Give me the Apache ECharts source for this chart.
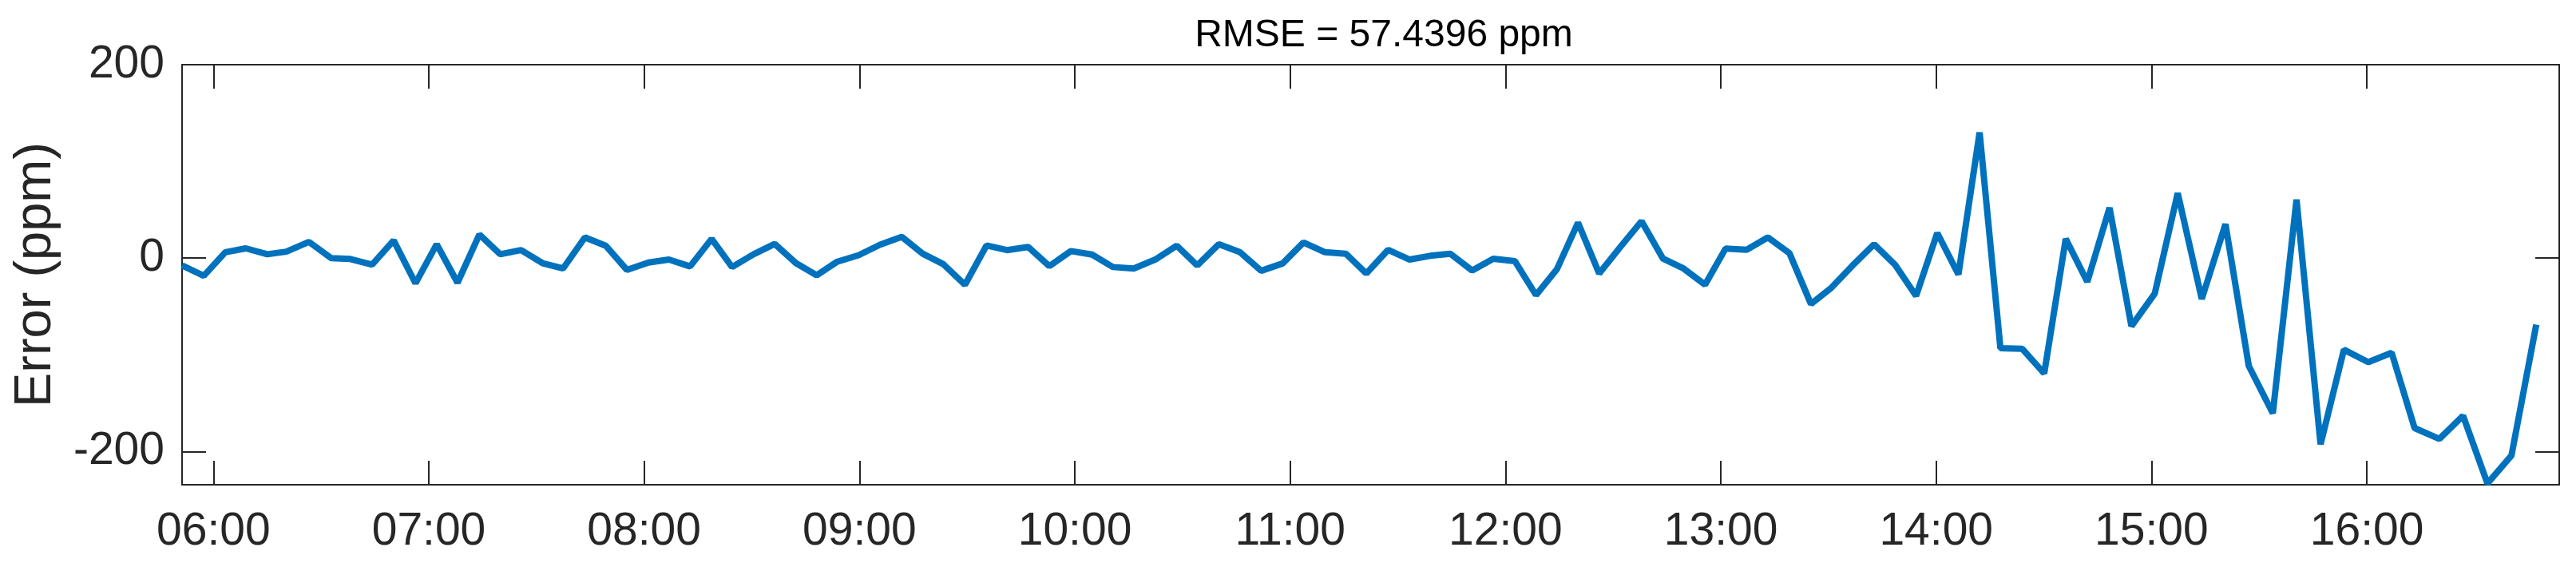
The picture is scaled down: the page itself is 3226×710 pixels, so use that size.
<!DOCTYPE html>
<html>
<head>
<meta charset="utf-8">
<script src="https://cdn.jsdelivr.net/npm/echarts@6/dist/echarts.min.js"></script>
<style>
  html, body { margin: 0; padding: 0; background: #fff; }
  #main { width: 3226px; height: 710px; }
</style>
</head>
<body>
<div id="main"></div>
<script>
// sample times (same day) and model error in ppm
var times = [
  "05:51:15", "05:57:18", "06:03:18", "06:09:00", "06:15:00", "06:20:18", "06:26:36", "06:32:48", "06:38:06", "06:44:12",
  "06:50:12", "06:56:18", "07:02:12", "07:08:00", "07:14:06", "07:19:54", "07:25:42", "07:31:42", "07:37:24", "07:43:30",
  "07:49:18", "07:55:12", "08:01:12", "08:06:54", "08:12:48", "08:18:48", "08:24:30", "08:30:30", "08:36:24", "08:42:18",
  "08:48:06", "08:53:48", "08:59:48", "09:05:42", "09:11:48", "09:17:36", "09:23:18", "09:29:24", "09:35:24", "09:41:06",
  "09:47:00", "09:52:54", "09:58:54", "10:04:48", "10:10:36", "10:16:24", "10:22:24", "10:28:24", "10:34:06", "10:40:06",
  "10:46:00", "10:51:54", "10:57:54", "11:03:42", "11:09:42", "11:15:30", "11:21:12", "11:27:18", "11:33:18", "11:39:00",
  "11:44:36", "11:50:42", "11:56:36", "12:02:36", "12:08:30", "12:14:18", "12:20:12", "12:26:06", "12:32:00", "12:37:54",
  "12:43:54", "12:49:36", "12:55:36", "13:01:18", "13:07:12", "13:13:06", "13:19:06", "13:25:06", "13:30:48", "13:36:42",
  "13:42:42", "13:48:30", "13:54:24", "14:00:18", "14:06:12", "14:12:06", "14:17:54", "14:24:00", "14:30:06", "14:36:06",
  "14:42:06", "14:48:18", "14:54:24", "15:00:54", "15:07:18", "15:14:00", "15:20:36", "15:27:06", "15:33:48", "15:40:24",
  "15:47:06", "15:53:36", "16:00:24", "16:06:54", "16:13:18", "16:20:12", "16:26:48", "16:33:36", "16:40:18", "16:47:12"
];
var errors = [
  -7.6, -18.3, 6.1, 10.1, 4.0, 6.7, 16.8, 0.0, -0.9, -6.7,
  18.3, -26.0, 14.4, -25.4, 24.4, 4.0, 8.3, -5.2, -10.7, 21.4,
  12.8, -12.2, -4.6, -1.5, -8.6, 19.9, -9.2, 4.0, 14.7, -5.2,
  -17.7, -3.7, 3.1, 13.8, 22.0, 4.6, -6.1, -27.5, 13.1, 8.3,
  11.6, -8.3, 7.3, 3.7, -9.2, -10.7, -1.5, 12.8, -7.6, 14.4,
  6.1, -13.1, -5.5, 16.2, 6.1, 4.6, -15.9, 8.6, -1.5, 2.4,
  4.6, -12.8, -0.6, -3.1, -38.2, -11.6, 36.7, -15.9, 11.6, 38.2,
  -0.6, -10.7, -27.5, 9.8, 8.6, 21.4, 5.2, -47.4, -30.6, -7.6,
  14.4, -6.7, -39.1, 26.0, -16.8, 129.9, -93.2, -93.8, -119.2, 19.9,
  -24.4, 52.0, -70.3, -36.7, 67.2, -42.2, 35.1, -111.5, -160.4, 60.5,
  -192.5, -94.7, -107.6, -97.8, -175.7, -187.0, -163.0, -233.0, -204.0, -68.8
];
var hourTicks = ["06:00", "07:00", "08:00", "09:00", "10:00", "11:00", "12:00", "13:00", "14:00", "15:00", "16:00"];
var yTicks = [-200, 0, 200];
var xStart = "05:51:15";
var xEnd = "16:53:36";
var yMin = -234.3;
var yMax = 200;

// clock time -> seconds since midnight
function sec(t) {
  var p = t.split(":");
  return (+p[0]) * 3600 + (+p[1]) * 60 + (p.length > 2 ? +p[2] : 0);
}
function pad(n) {
  return (n < 10 ? "0" : "") + n;
}
function hhmm(v) {
  var h = Math.floor(v / 3600);
  var m = Math.round((v - h * 3600) / 60);
  return pad(h) + ":" + pad(m);
}

var seriesData = times.map(function(t, i) {
  return [sec(t), errors[i]];
});
var hourValues = hourTicks.map(sec);

var axisColor = "#262626";
var font = "'Liberation Sans', Arial, sans-serif";

(function() {
  var myChart = echarts.init(document.getElementById("main"));
  var option = {
    backgroundColor: "#ffffff",
    animation: false,
    title: {
      text: "RMSE = 57.4396 ppm",
      left: 1728,
      textAlign: "center",
      top: 16,
      textStyle: {
        color: "#000000",
        fontSize: 48,
        fontWeight: "normal",
        fontFamily: font
      }
    },
    grid: {
      left: 228,
      right: 21,
      top: 81,
      bottom: 103
    },
    xAxis: [
      {
        type: "value",
        position: "bottom",
        min: sec(xStart),
        max: sec(xEnd),
        axisLine: {
          show: true,
          onZero: false,
          lineStyle: { color: axisColor, width: 2 }
        },
        axisTick: {
          show: true,
          inside: true,
          length: 30,
          customValues: hourValues,
          lineStyle: { color: axisColor, width: 2 }
        },
        axisLabel: {
          show: true,
          customValues: hourValues,
          formatter: function(v) {
            return hhmm(v);
          },
          color: axisColor,
          fontSize: 57,
          fontFamily: font,
          margin: 31
        },
        splitLine: { show: false }
      },
      {
        type: "value",
        position: "top",
        min: sec(xStart),
        max: sec(xEnd),
        axisLine: {
          show: true,
          onZero: false,
          lineStyle: { color: axisColor, width: 2 }
        },
        axisTick: {
          show: true,
          inside: true,
          length: 30,
          customValues: hourValues,
          lineStyle: { color: axisColor, width: 2 }
        },
        axisLabel: { show: false },
        splitLine: { show: false }
      }
    ],
    yAxis: [
      {
        type: "value",
        position: "left",
        min: yMin,
        max: yMax,
        name: "Error (ppm)",
        nameLocation: "middle",
        nameGap: 150,
        nameTextStyle: {
          color: axisColor,
          fontSize: 65,
          fontFamily: font
        },
        axisLine: {
          show: true,
          onZero: false,
          lineStyle: { color: axisColor, width: 2 }
        },
        axisTick: {
          show: true,
          inside: true,
          length: 30,
          customValues: yTicks,
          lineStyle: { color: axisColor, width: 2 }
        },
        axisLabel: {
          show: true,
          customValues: yTicks,
          color: axisColor,
          fontSize: 57,
          fontFamily: font,
          margin: 22
        },
        splitLine: { show: false }
      },
      {
        type: "value",
        position: "right",
        min: yMin,
        max: yMax,
        axisLine: {
          show: true,
          onZero: false,
          lineStyle: { color: axisColor, width: 2 }
        },
        axisTick: {
          show: true,
          inside: true,
          length: 30,
          customValues: yTicks,
          lineStyle: { color: axisColor, width: 2 }
        },
        axisLabel: { show: false },
        splitLine: { show: false }
      }
    ],
    series: [
      {
        name: "Error",
        type: "line",
        xAxisIndex: 0,
        yAxisIndex: 0,
        data: seriesData,
        showSymbol: false,
        symbol: "none",
        clip: false,
        lineStyle: {
          color: "#0072BD",
          width: 8
        }
      }
    ]
  };
  myChart.setOption(option);
  window.addEventListener("resize", function() {
    myChart.resize();
  });
})();
</script>
</body>
</html>
